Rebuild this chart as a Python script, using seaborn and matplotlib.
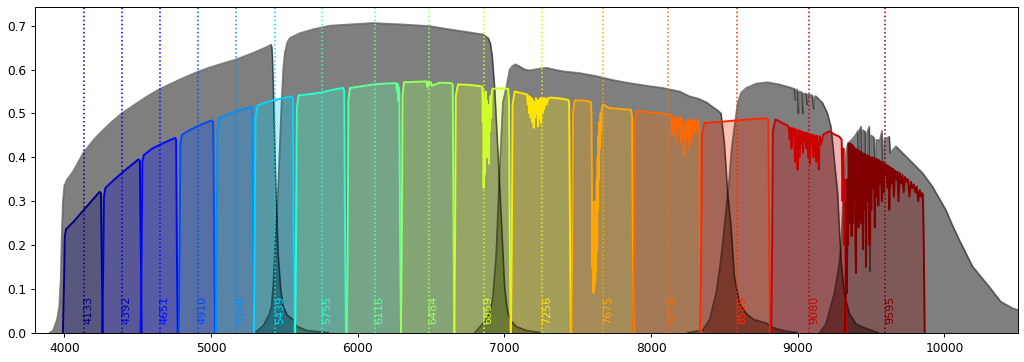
import numpy as np
import seaborn as sns
import matplotlib
matplotlib.use("Agg")
import matplotlib.pyplot as plt

# * broad-band (grey) throughput curves
bb1_wave = [3900, 3923, 3950, 3965, 3975, 3982, 3990, 4000, 4016, 4060, 4129, 4200, 4243, 4320, 4391, 4480,
            4560, 4652, 4780, 4902, 4993, 5080, 5163, 5288, 5390, 5410, 5415, 5419, 5428, 5442, 5458, 5475,
            5492, 5520, 5560, 5583, 5650, 5800]
bb1_thru = [0.0, 0.005, 0.03, 0.06, 0.12, 0.22, 0.30, 0.335, 0.348, 0.368, 0.410, 0.440, 0.455, 0.480, 0.500,
            0.520, 0.538, 0.556, 0.576, 0.594, 0.605, 0.614, 0.622, 0.638, 0.653, 0.657, 0.652, 0.630, 0.524,
            0.333, 0.180, 0.100, 0.060, 0.040, 0.030, 0.015, 0.005, 0.0]
bb2_wave = [5300, 5356, 5395, 5413, 5425, 5435, 5458, 5481, 5492, 5504, 5520, 5538, 5606, 5700, 5810, 5950,
            6103, 6300, 6491, 6600, 6718, 6854, 6890, 6905, 6918, 6934, 6957, 6980, 7002, 7015, 7025, 7050,
            7082, 7150, 7250]
bb2_thru = [0.0, 0.016, 0.04, 0.06, 0.11, 0.18, 0.333, 0.524, 0.60, 0.640, 0.662, 0.672, 0.683, 0.692, 0.700,
            0.703, 0.706, 0.703, 0.699, 0.693, 0.687, 0.680, 0.672, 0.660, 0.630, 0.560, 0.410, 0.257, 0.105,
            0.065, 0.044, 0.025, 0.014, 0.005, 0.0]
bb3_wave = [6800, 6877, 6905, 6922, 6945, 6968, 6990, 7014, 7036, 7055, 7075, 7104, 7140, 7172, 7240, 7286,
            7340, 7399, 7513, 7627, 7740, 7854, 7970, 8081, 8194, 8262, 8320, 8380, 8420, 8450, 8478, 8501,
            8523, 8546, 8569, 8603, 8649, 8700, 8785, 8830, 8900, 9000]
bb3_thru = [0.0, 0.030, 0.05, 0.082, 0.180, 0.370, 0.524, 0.560, 0.600, 0.608, 0.612, 0.607, 0.600, 0.598,
            0.602, 0.604, 0.600, 0.596, 0.592, 0.585, 0.576, 0.569, 0.563, 0.558, 0.550, 0.539, 0.534, 0.525,
            0.515, 0.508, 0.500, 0.432, 0.318, 0.242, 0.128, 0.067, 0.044, 0.030, 0.022, 0.012, 0.005, 0.0]
bb4_wave = [8250, 8353, 8400, 8444, 8470, 8489, 8512, 8535, 8550, 8569, 8591, 8614, 8649, 8717, 8796, 8875,
            8940, 8978, 8985, 8990, 9000, 9005, 9010, 9030, 9035, 9040, 9060, 9065, 9070, 9100, 9110, 9115,
            9125, 9170, 9204, 9227, 9240, 9250, 9273, 9284, 9296, 9318, 9352, 9398, 9466, 9550]
bb4_thru = [0.0, 0.006, 0.03, 0.090, 0.15, 0.204, 0.28, 0.356, 0.42, 0.470, 0.524, 0.547, 0.558, 0.568, 0.571,
            0.566, 0.560, 0.556, 0.53, 0.555, 0.552, 0.50, 0.55, 0.548, 0.50, 0.545, 0.545, 0.52, 0.543, 0.541,
            0.51, 0.539, 0.539, 0.524, 0.500, 0.470, 0.43, 0.394, 0.318, 0.242, 0.166, 0.090, 0.044, 0.020,
            0.010, 0.0]
bb5_wave = [9150, 9193, 9250, 9280, 9296, 9307, 9318, 9330, 9341, 9370, 9398, 9410, 9415, 9420, 9432, 9438,
            9445, 9460, 9466, 9472, 9489, 9494, 9500, 9520, 9530, 9536, 9560, 9575, 9580, 9590, 9625, 9632,
            9670, 9700, 9784, 9852, 9920, 10011, 10056, 10102, 10193, 10306, 10385, 10464, 10500]
bb5_thru = [0.0, 0.020, 0.090, 0.150, 0.196, 0.280, 0.356, 0.41, 0.432, 0.44, 0.452, 0.46, 0.40, 0.462, 0.47,
            0.38, 0.462, 0.458, 0.30, 0.455, 0.47, 0.14, 0.45, 0.445, 0.35, 0.44, 0.438, 0.46, 0.34, 0.44,
            0.447, 0.41, 0.425, 0.415, 0.387, 0.364, 0.333, 0.280, 0.245, 0.212, 0.151, 0.105, 0.071, 0.056,
            0.052]

# * narrow-band filters, central wavelengths
centres = [4133, 4392, 4651, 4910, 5169, 5439, 5755, 6116, 6484, 6859, 7256, 7675, 8119, 8589, 9080, 9595]

nb01_wave = [3990, 3998, 4003, 4012, 4060, 4120, 4180, 4240, 4250, 4256, 4262]
nb01_thru = [0, 0.12, 0.22, 0.236, 0.252, 0.275, 0.298, 0.321, 0.318, 0.15, 0]
nb02_wave = [4258, 4265, 4270, 4280, 4350, 4420, 4505, 4515, 4521, 4527]
nb02_thru = [0, 0.15, 0.31, 0.33, 0.352, 0.372, 0.395, 0.392, 0.20, 0]
nb03_wave = [4520, 4527, 4532, 4542, 4600, 4680, 4755, 4762, 4767, 4773]
nb03_thru = [0, 0.18, 0.39, 0.405, 0.42, 0.433, 0.444, 0.44, 0.2, 0]
nb04_wave = [4780, 4786, 4791, 4801, 4860, 4930, 5005, 5015, 5021, 5027]
nb04_thru = [0, 0.2, 0.43, 0.451, 0.463, 0.474, 0.484, 0.48, 0.22, 0]
nb05_wave = [5033, 5039, 5044, 5055, 5120, 5200, 5272, 5282, 5288, 5294]
nb05_thru = [0, 0.2, 0.46, 0.489, 0.499, 0.508, 0.515, 0.512, 0.22, 0]
nb06_wave = [5292, 5298, 5303, 5316, 5400, 5480, 5550, 5558, 5564, 5570]
nb06_thru = [0, 0.2, 0.49, 0.518, 0.528, 0.534, 0.539, 0.535, 0.22, 0]
nb07_wave = [5574, 5580, 5585, 5596, 5680, 5760, 5830, 5900, 5908, 5914, 5920]
nb07_thru = [0, 0.2, 0.51, 0.541, 0.544, 0.548, 0.554, 0.558, 0.552, 0.22, 0]
nb08_wave = [5926, 5932, 5937, 5948, 6030, 6105, 6190, 6262, 6268, 6272, 6276, 6280, 6284, 6289, 6295]
nb08_thru = [0, 0.2, 0.53, 0.558, 0.562, 0.566, 0.568, 0.569, 0.55, 0.568, 0.53, 0.56, 0.55, 0.22, 0]
nb09_wave = [6295, 6301, 6306, 6316, 6400, 6470, 6476, 6482, 6490, 6500, 6506, 6560, 6640, 6648, 6654, 6660]
nb09_thru = [0, 0.2, 0.54, 0.571, 0.572, 0.573, 0.56, 0.572, 0.565, 0.571, 0.563, 0.57, 0.569, 0.565, 0.22, 0]
nb10_wave = [6658, 6664, 6669, 6684, 6760, 6840, 6850, 6853, 6856, 6859, 6862, 6865, 6868, 6871, 6874, 6877,
             6880, 6883, 6886, 6889, 6892, 6895, 6898, 6902, 6906, 6910, 6914, 6920, 6960, 7000, 7026, 7032,
             7037, 7043]
nb10_thru = [0, 0.2, 0.54, 0.566, 0.565, 0.562, 0.56, 0.48, 0.55, 0.33, 0.52, 0.36, 0.54, 0.42, 0.55, 0.45,
             0.53, 0.40, 0.52, 0.44, 0.50, 0.385, 0.52, 0.46, 0.54, 0.49, 0.55, 0.556, 0.557, 0.557, 0.556,
             0.53, 0.22, 0]
nb11_wave = [7045, 7051, 7056, 7070, 7120, 7155, 7160, 7165, 7170, 7175, 7180, 7185, 7190, 7195, 7200, 7205,
             7210, 7215, 7220, 7225, 7230, 7235, 7240, 7245, 7250, 7255, 7260, 7266, 7272, 7280, 7288, 7300,
             7320, 7380, 7434, 7442, 7448, 7454]
nb11_thru = [0, 0.2, 0.52, 0.55, 0.546, 0.543, 0.52, 0.54, 0.50, 0.538, 0.49, 0.535, 0.48, 0.53, 0.467, 0.525,
             0.49, 0.535, 0.50, 0.53, 0.47, 0.53, 0.49, 0.535, 0.478, 0.53, 0.50, 0.535, 0.51, 0.535, 0.52,
             0.535, 0.536, 0.534, 0.531, 0.527, 0.22, 0]
nb12_wave = [7457, 7463, 7468, 7480, 7540, 7590, 7594, 7597, 7600, 7602, 7604, 7606, 7608, 7610, 7612, 7614,
             7616, 7618, 7620, 7622, 7624, 7626, 7628, 7630, 7633, 7636, 7639, 7642, 7645, 7648, 7652, 7656,
             7660, 7664, 7672, 7717, 7800, 7864, 7871, 7876, 7882]
nb12_thru = [0, 0.2, 0.50, 0.53, 0.529, 0.526, 0.50, 0.35, 0.15, 0.30, 0.10, 0.22, 0.09, 0.18, 0.10, 0.25,
             0.11, 0.20, 0.12, 0.30, 0.14, 0.26, 0.18, 0.35, 0.20, 0.40, 0.28, 0.45, 0.35, 0.48, 0.42, 0.50,
             0.46, 0.51, 0.52, 0.512, 0.510, 0.508, 0.49, 0.22, 0]
nb13_wave = [7878, 7884, 7889, 7905, 7980, 8060, 8126, 8140, 8146, 8152, 8158, 8165, 8172, 8180, 8188, 8196,
             8204, 8212, 8220, 8228, 8236, 8244, 8252, 8260, 8268, 8276, 8284, 8292, 8300, 8308, 8319, 8328,
             8334, 8340]
nb13_thru = [0, 0.2, 0.48, 0.505, 0.503, 0.5, 0.497, 0.495, 0.45, 0.49, 0.46, 0.492, 0.44, 0.49, 0.47, 0.49,
             0.43, 0.488, 0.45, 0.402, 0.48, 0.44, 0.487, 0.42, 0.485, 0.44, 0.484, 0.455, 0.484, 0.46, 0.486,
             0.48, 0.22, 0]
nb14_wave = [8336, 8342, 8347, 8364, 8480, 8580, 8700, 8785, 8800, 8806, 8812]
nb14_thru = [0, 0.2, 0.45, 0.478, 0.481, 0.484, 0.487, 0.489, 0.485, 0.22, 0]
nb15_wave = [8820, 8826, 8831, 8848, 8875, 8930, 8940, 8946, 8952, 8958, 8964, 8970, 8976, 8982, 8988, 8994,
             9000, 9006, 9012, 9018, 9024, 9030, 9036, 9042, 9048, 9054, 9060, 9066, 9072, 9078, 9084, 9090,
             9096, 9102, 9108, 9114, 9120, 9126, 9132, 9138, 9144, 9150, 9160, 9175, 9190, 9216, 9250, 9284,
             9300, 9306, 9312, 9316, 9322, 9328, 9334]
nb15_thru = [0, 0.2, 0.46, 0.486, 0.482, 0.472, 0.468, 0.44, 0.467, 0.42, 0.466, 0.45, 0.465, 0.39, 0.463,
             0.41, 0.372, 0.462, 0.40, 0.46, 0.43, 0.458, 0.41, 0.457, 0.44, 0.456, 0.42, 0.455, 0.40, 0.454,
             0.385, 0.452, 0.43, 0.451, 0.40, 0.45, 0.44, 0.39, 0.449, 0.41, 0.372, 0.448, 0.43, 0.452, 0.455,
             0.459, 0.452, 0.447, 0.44, 0.30, 0.42, 0.20, 0.35, 0.10, 0]
nb16_wave = [9322, 9328, 9333, 9336, 9340, 9344, 9348, 9352, 9356, 9360, 9364, 9368, 9372, 9376, 9380, 9385,
             9390, 9394, 9398, 9402, 9406, 9410, 9415, 9420, 9425, 9430, 9435, 9440, 9445, 9450, 9455, 9460,
             9466, 9472, 9478, 9484, 9490, 9496, 9502, 9508, 9514, 9520, 9526, 9532, 9538, 9544, 9550, 9556,
             9562, 9568, 9574, 9580, 9586, 9592, 9598, 9605, 9612, 9619, 9625, 9632, 9640, 9648, 9656, 9664,
             9672, 9680, 9688, 9696, 9705, 9714, 9723, 9732, 9742, 9752, 9762, 9772, 9782, 9792, 9802, 9812,
             9822, 9832, 9842, 9848, 9854, 9860, 9866]
nb16_thru = [0, 0.1, 0.3, 0.09, 0.35, 0.2, 0.43, 0.25, 0.432, 0.30, 0.43, 0.22, 0.428, 0.25, 0.425, 0.30,
             0.42, 0.20, 0.136, 0.418, 0.27, 0.416, 0.24, 0.414, 0.32, 0.412, 0.25, 0.41, 0.19, 0.408, 0.28,
             0.406, 0.15, 0.405, 0.30, 0.403, 0.20, 0.40, 0.28, 0.40, 0.33, 0.398, 0.24, 0.397, 0.31, 0.395,
             0.29, 0.393, 0.34, 0.39, 0.30, 0.388, 0.32, 0.385, 0.36, 0.383, 0.33, 0.38, 0.28, 0.377, 0.34,
             0.374, 0.31, 0.37, 0.35, 0.367, 0.30, 0.364, 0.34, 0.36, 0.32, 0.355, 0.345, 0.35, 0.31, 0.344,
             0.33, 0.338, 0.32, 0.333, 0.30, 0.325, 0.31, 0.318, 0.315, 0.2, 0]

bb_waves = [bb1_wave, bb2_wave, bb3_wave, bb4_wave, bb5_wave]
bb_thrus = [bb1_thru, bb2_thru, bb3_thru, bb4_thru, bb5_thru]
nb_waves = [nb01_wave, nb02_wave, nb03_wave, nb04_wave, nb05_wave, nb06_wave, nb07_wave, nb08_wave,
            nb09_wave, nb10_wave, nb11_wave, nb12_wave, nb13_wave, nb14_wave, nb15_wave, nb16_wave]
nb_thrus = [nb01_thru, nb02_thru, nb03_thru, nb04_thru, nb05_thru, nb06_thru, nb07_thru, nb08_thru,
            nb09_thru, nb10_thru, nb11_thru, nb12_thru, nb13_thru, nb14_thru, nb15_thru, nb16_thru]

colors = plt.cm.jet(np.linspace(0, 1, len(centres)))

fig = plt.figure(figsize=(10.24, 3.62), dpi=100)
ax = fig.add_axes([0.0342, 0.081, 0.9596, 0.899])

# broad bands in grey
for w, t in zip(bb_waves, bb_thrus):
    ax.fill_between(w, t, color='k', alpha=0.5, lw=0)
    sns.lineplot(x=w, y=t, color='k', alpha=0.5, lw=1.2, sort=False, estimator=None, ax=ax)

# narrow bands on top
for w, t, col in zip(nb_waves, nb_thrus, colors):
    ax.fill_between(w, t, color=col, alpha=0.3, lw=0)
    sns.lineplot(x=w, y=t, color=col, lw=1.4, sort=False, estimator=None, ax=ax)

for c, col in zip(centres, colors):
    ax.axvline(c, color=col, ls=':', lw=1.1)
    ax.text(c, 0.02, str(c), rotation=90, ha='left', va='bottom', color=col, fontsize=8)

ax.set_xlim(3800, 10500)
ax.set_ylim(0, 0.742)
ax.set_xticks(range(4000, 10001, 1000))
ax.set_yticks(np.arange(0, 0.71, 0.1))
ax.tick_params(labelsize=8.7, length=3, width=0.7)
for s in ax.spines.values():
    s.set_linewidth(0.7)

plt.savefig('out.png', dpi=100)
